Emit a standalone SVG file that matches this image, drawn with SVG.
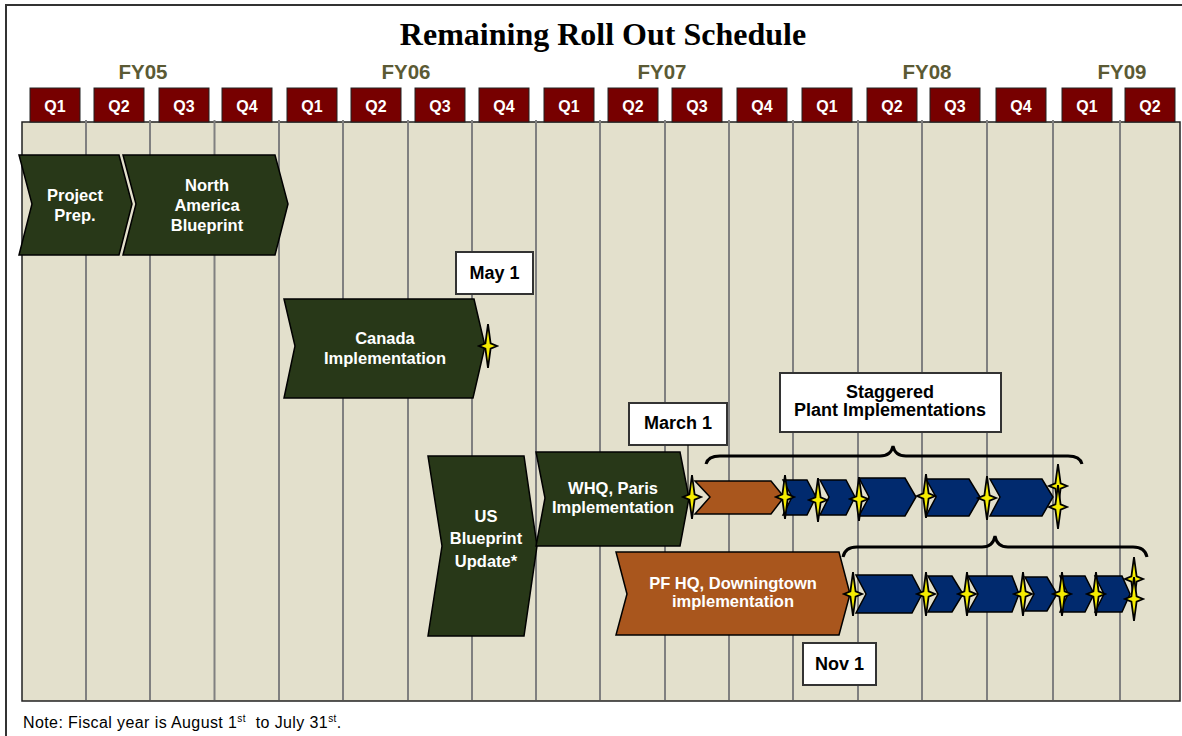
<svg xmlns="http://www.w3.org/2000/svg" width="1182" height="736" viewBox="0 0 1182 736">
<style>
.frame{fill:#fff;stroke:#333;stroke-width:2}
.grid{fill:#e3e0cc;stroke:#222;stroke-width:1.5}
.vl{stroke:#808080;stroke-width:2}
.qbox{fill:#770000;stroke:#222;stroke-width:1}
.qt{font-family:"Liberation Sans",Arial,sans-serif;font-weight:bold;font-size:16px;fill:#fff;text-anchor:middle}
.fy{font-family:"Liberation Sans",Arial,sans-serif;font-weight:bold;font-size:20.5px;fill:#5b5a34;text-anchor:middle}
.title{font-family:"Liberation Serif","Times New Roman",serif;font-weight:bold;font-size:32px;fill:#000;text-anchor:middle}
.green{fill:#283818;stroke:#000;stroke-width:1.5}
.brown{fill:#a9561d;stroke:#000;stroke-width:1.5}
.blue{fill:#012a6e;stroke:#000;stroke-width:1.5}
.ct{font-family:"Liberation Sans",Arial,sans-serif;font-weight:bold;font-size:16.5px;fill:#fff;text-anchor:middle}
.lbox{fill:#fff;stroke:#333;stroke-width:2}
.lt{font-family:"Liberation Sans",Arial,sans-serif;font-weight:bold;font-size:18px;fill:#000;text-anchor:middle}
.brace{fill:none;stroke:#000;stroke-width:3}
.star{fill:#f5ec00;stroke:#000;stroke-width:1.8;stroke-linejoin:miter}
.note{font-family:"Liberation Sans",Arial,sans-serif;font-size:16px;fill:#000;letter-spacing:0.4px}
</style>
<defs>
<path id="star" d="M0,-22 L2.6,-2.6 L9,0 L2.6,2.6 L0,22 L-2.6,2.6 L-9,0 L-2.6,-2.6 Z"/>
</defs>

<rect class="frame" x="6" y="5" width="1190" height="740"/>
<text class="title" x="603" y="45">Remaining Roll Out Schedule</text>

<g id="fiscal-years">
<text class="fy" x="143" y="79">FY05</text>
<text class="fy" x="406" y="79">FY06</text>
<text class="fy" x="662" y="79">FY07</text>
<text class="fy" x="927" y="79">FY08</text>
<text class="fy" x="1122" y="79">FY09</text>
</g>

<g id="grid">
<rect class="grid" x="22" y="122" width="1158" height="579"/>
<g class="vl">
<line x1="86" y1="120" x2="86" y2="700"/>
<line x1="150" y1="120" x2="150" y2="700"/>
<line x1="214.5" y1="120" x2="214.5" y2="700"/>
<line x1="279" y1="120" x2="279" y2="700"/>
<line x1="343" y1="120" x2="343" y2="700"/>
<line x1="408" y1="120" x2="408" y2="700"/>
<line x1="472" y1="120" x2="472" y2="700"/>
<line x1="536" y1="120" x2="536" y2="700"/>
<line x1="600" y1="120" x2="600" y2="700"/>
<line x1="665" y1="120" x2="665" y2="700"/>
<line x1="729" y1="120" x2="729" y2="700"/>
<line x1="793" y1="120" x2="793" y2="700"/>
<line x1="858" y1="120" x2="858" y2="700"/>
<line x1="922" y1="120" x2="922" y2="700"/>
<line x1="987" y1="120" x2="987" y2="700"/>
<line x1="1053" y1="120" x2="1053" y2="700"/>
<line x1="1120" y1="120" x2="1120" y2="700"/>
</g>
</g>

<g id="quarters">
<rect class="qbox" x="30" y="88" width="50" height="34"/><text class="qt" x="55" y="112">Q1</text>
<rect class="qbox" x="94" y="88" width="50" height="34"/><text class="qt" x="119" y="112">Q2</text>
<rect class="qbox" x="159" y="88" width="50" height="34"/><text class="qt" x="184" y="112">Q3</text>
<rect class="qbox" x="222" y="88" width="50" height="34"/><text class="qt" x="247" y="112">Q4</text>
<rect class="qbox" x="287" y="88" width="50" height="34"/><text class="qt" x="312" y="112">Q1</text>
<rect class="qbox" x="351" y="88" width="50" height="34"/><text class="qt" x="376" y="112">Q2</text>
<rect class="qbox" x="415" y="88" width="50" height="34"/><text class="qt" x="440" y="112">Q3</text>
<rect class="qbox" x="479" y="88" width="50" height="34"/><text class="qt" x="504" y="112">Q4</text>
<rect class="qbox" x="544" y="88" width="50" height="34"/><text class="qt" x="569" y="112">Q1</text>
<rect class="qbox" x="608" y="88" width="50" height="34"/><text class="qt" x="633" y="112">Q2</text>
<rect class="qbox" x="672" y="88" width="50" height="34"/><text class="qt" x="697" y="112">Q3</text>
<rect class="qbox" x="737" y="88" width="50" height="34"/><text class="qt" x="762" y="112">Q4</text>
<rect class="qbox" x="802" y="88" width="50" height="34"/><text class="qt" x="827" y="112">Q1</text>
<rect class="qbox" x="867" y="88" width="50" height="34"/><text class="qt" x="892" y="112">Q2</text>
<rect class="qbox" x="930" y="88" width="50" height="34"/><text class="qt" x="955" y="112">Q3</text>
<rect class="qbox" x="996" y="88" width="50" height="34"/><text class="qt" x="1021" y="112">Q4</text>
<rect class="qbox" x="1062" y="88" width="50" height="34"/><text class="qt" x="1087" y="112">Q1</text>
<rect class="qbox" x="1125" y="88" width="50" height="34"/><text class="qt" x="1150" y="112">Q2</text>
</g>

<g id="project-prep">
<polygon class="green" points="19,155 119,155 132,204 119,255 19,255 32,204"/>
<text class="ct" x="75" y="201">Project</text>
<text class="ct" x="75" y="221">Prep.</text>
</g>

<g id="north-america-blueprint">
<polygon class="green" points="123,155 275,155 288,204 275,255 123,255 136,204"/>
<text class="ct" x="207" y="191">North</text>
<text class="ct" x="207" y="211">America</text>
<text class="ct" x="207" y="231">Blueprint</text>
</g>

<g id="may1">
<rect class="lbox" x="456" y="252" width="77" height="42"/>
<text class="lt" x="494.5" y="279">May 1</text>
</g>

<g id="canada-implementation">
<polygon class="green" points="284,299 474,299 485,346 473,398 284,398 295,346"/>
<text class="ct" x="385" y="344">Canada</text>
<text class="ct" x="385" y="364">Implementation</text>
</g>

<g id="us-blueprint-update">
<polygon class="green" points="428,456 524,456 537,546 524,636 428,636 442,546"/>
<text class="ct" x="486" y="522">US</text>
<text class="ct" x="486" y="544">Blueprint</text>
<text class="ct" x="486" y="567">Update*</text>
</g>

<g id="whq-paris">
<polygon class="green" points="536,452 680,452 689,498 680,546 536,546 545,498"/>
<text class="ct" x="613" y="494">WHQ, Paris</text>
<text class="ct" x="613" y="513">Implementation</text>
</g>

<g id="march1">
<rect class="lbox" x="629" y="403" width="98" height="42"/>
<text class="lt" x="678" y="429">March 1</text>
</g>

<g id="staggered">
<rect class="lbox" x="780" y="373" width="221" height="59"/>
<text class="lt" x="890" y="398">Staggered</text>
<text class="lt" x="890" y="416">Plant Implementations</text>
</g>

<g id="pf-hq">
<polygon class="brown" points="616,552 839,552 850,594 839,635 616,635 627,594"/>
<text class="ct" x="733" y="589">PF HQ, Downingtown</text>
<text class="ct" x="733" y="607">implementation</text>
</g>

<g id="nov1">
<rect class="lbox" x="803" y="643" width="73" height="42"/>
<text class="lt" x="839.5" y="670">Nov 1</text>
</g>

<g id="row1-phases">
<polygon class="brown" points="695,481 771,481 784,497 771,514 695,514 710,497"/>
<polygon class="blue" points="783,480 807,480 816,497 807,515 783,515 792,497"/>
<polygon class="blue" points="820,480 846,480 855,497 846,515 820,515 829,497"/>
<polygon class="blue" points="859,478 905,478 916,497 905,516 859,516 869,497"/>
<polygon class="blue" points="926,479 969,479 980,497 969,516 926,516 936,497"/>
<polygon class="blue" points="990,479 1042,479 1053,497 1042,516 990,516 1000,497"/>
</g>

<g id="row2-phases">
<polygon class="blue" points="856,575 912,575 922,594 912,613 856,613 866,594"/>
<polygon class="blue" points="928,576 952,576 963,594 952,612 928,612 938,594"/>
<polygon class="blue" points="968,576 1012,576 1019,594 1012,612 968,612 978,594"/>
<polygon class="blue" points="1025,577 1047,577 1057,594 1047,611 1025,611 1034,594"/>
<polygon class="blue" points="1060,576 1085,576 1094,594 1085,612 1060,612 1068,594"/>
<polygon class="blue" points="1095,576 1122,576 1130,594 1122,612 1095,612 1104,594"/>
</g>

<g id="connectors">
<line x1="688" y1="445" x2="688" y2="495" stroke="#000" stroke-width="1"/>
<path class="brace" d="M706,464 Q708,456 720,456 L880,456 Q891,456 893,446 Q895,456 906,456 L1068,456 Q1080,456 1082,464"/>
<path class="brace" d="M843,557 Q845,547 857,547 L982,547 Q993,547 995,536 Q997,547 1008,547 L1133,547 Q1145,547 1147,557"/>
</g>

<g id="milestones">
<use href="#star" class="star" x="488" y="346"/>
<use href="#star" class="star" x="692" y="497"/>
<use href="#star" class="star" x="785" y="497"/>
<use href="#star" class="star" x="818" y="500"/>
<use href="#star" class="star" x="859" y="499"/>
<use href="#star" class="star" x="926" y="496"/>
<use href="#star" class="star" x="987" y="498"/>
<use href="#star" class="star" x="1058" y="486"/>
<use href="#star" class="star" x="1058" y="507"/>
<use href="#star" class="star" x="853" y="594"/>
<use href="#star" class="star" x="926" y="594"/>
<use href="#star" class="star" x="967" y="594"/>
<use href="#star" class="star" x="1023" y="594"/>
<use href="#star" class="star" x="1062" y="594"/>
<use href="#star" class="star" x="1096" y="594"/>
<use href="#star" class="star" x="1134" y="579"/>
<use href="#star" class="star" x="1134" y="599"/>
</g>

<text class="note" x="23" y="728">Note: Fiscal year is August 1<tspan font-size="10" dy="-6">st</tspan><tspan dy="6">&#160; to July 31</tspan><tspan font-size="10" dy="-6">st</tspan><tspan dy="6">.</tspan></text>
</svg>
